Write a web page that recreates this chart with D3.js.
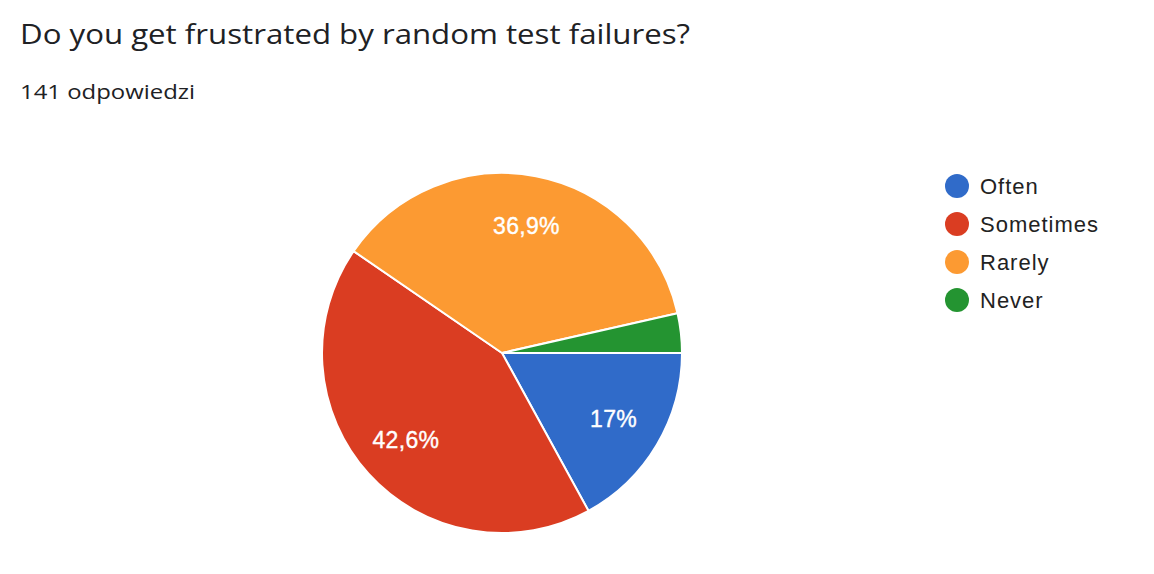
<!DOCTYPE html>
<html>
<head>
<meta charset="utf-8">
<script src="https://cdn.jsdelivr.net/npm/d3@7"></script>
<style>
  body { margin: 0; background: #fff; }
  svg { display: block; }
</style>
</head>
<body>
<script>

// Chart data.
var categories = ['Often', 'Sometimes', 'Rarely', 'Never'];
var counts = [24, 60, 52, 5];
var labels = ['17%', '42,6%', '36,9%', ''];
var colors = ['#306bc9', '#da3d22', '#fc9a32', '#249431'];

var width = 1154;
var height = 574;

var svg = d3.select('body').append('svg')
  .attr('width', width)
  .attr('height', height);

// Title and response count.
svg.append('text')
  .attr('x', 20)
  .attr('y', 44)
  .attr('font-family', 'Open Sans, sans-serif')
  .attr('font-size', 28)
  .attr('fill', '#202124')
  .attr('textLength', 670)
  .attr('lengthAdjust', 'spacingAndGlyphs')
  .text('Do you get frustrated by random test failures?');

svg.append('text')
  .attr('x', 20)
  .attr('y', 99)
  .attr('font-family', 'Open Sans, sans-serif')
  .attr('font-size', 20)
  .attr('fill', '#202124')
  .attr('textLength', 175)
  .attr('lengthAdjust', 'spacingAndGlyphs')
  .text('141 odpowiedzi');

// Pie layout, starting at 3 o'clock and going clockwise.
var radius = 180;
var pie = d3.pie()
  .sort(null)
  .startAngle(Math.PI / 2)
  .endAngle(Math.PI / 2 + 2 * Math.PI)
  .value(function(d) { return d; });

var arc = d3.arc().innerRadius(0).outerRadius(radius);
var labelArc = d3.arc().innerRadius(radius * 0.72).outerRadius(radius * 0.72);

var g = svg.append('g').attr('transform', 'translate(502,353)');
var arcs = pie(counts);

g.selectAll('path')
  .data(arcs)
  .enter().append('path')
  .attr('d', arc)
  .attr('fill', function(d, i) { return colors[i]; })
  .attr('stroke', '#fff')
  .attr('stroke-width', 2);

// Slice labels, slightly thickened with a same-colour stroke.
g.selectAll('text')
  .data(arcs)
  .enter().append('text')
  .attr('transform', function(d) { return 'translate(' + labelArc.centroid(d) + ')'; })
  .attr('text-anchor', 'middle')
  .attr('dy', '0.35em')
  .attr('font-family', 'Liberation Sans, Arial, sans-serif')
  .attr('font-size', 23)
  .attr('letter-spacing', 0.3)
  .attr('fill', '#fff')
  .attr('stroke', '#fff')
  .attr('stroke-width', 0.4)
  .text(function(d, i) { return labels[i]; });

// Legend.
var legend = svg.append('g').attr('transform', 'translate(957,186)');
var item = legend.selectAll('g')
  .data(categories)
  .enter().append('g')
  .attr('transform', function(d, i) { return 'translate(0,' + (i * 38) + ')'; });

item.append('circle')
  .attr('r', 12)
  .attr('fill', function(d, i) { return colors[i]; });

item.append('text')
  .attr('x', 23)
  .attr('dy', '0.35em')
  .attr('font-family', 'Liberation Sans, Arial, sans-serif')
  .attr('font-size', 22)
  .attr('letter-spacing', 1)
  .attr('fill', '#222')
  .text(function(d) { return d; });

</script>
</body>
</html>
